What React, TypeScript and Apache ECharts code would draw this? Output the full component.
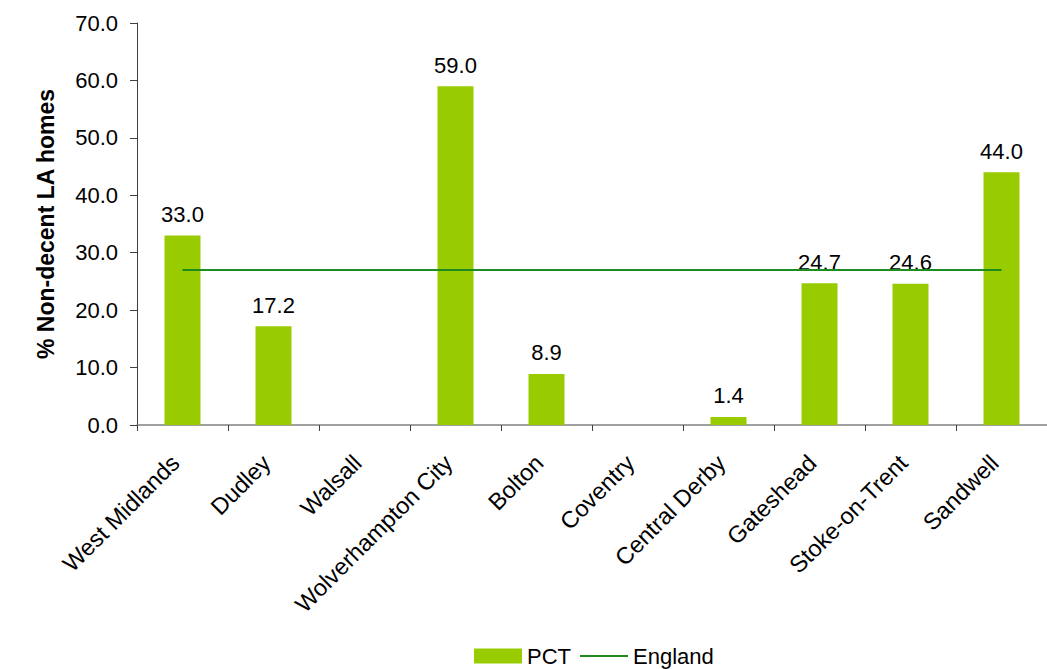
import React, { useEffect, useRef } from "react";
import * as echarts from "echarts";

const categories = [
  "West Midlands",
  "Dudley",
  "Walsall",
  "Wolverhampton City",
  "Bolton",
  "Coventry",
  "Central Derby",
  "Gateshead",
  "Stoke-on-Trent",
  "Sandwell",
];
const pctValues: (number | null)[] = [33.0, 17.2, null, 59.0, 8.9, null, 1.4, 24.7, 24.6, 44.0];
const englandValues = [27.0, 27.0, 27.0, 27.0, 27.0, 27.0, 27.0, 27.0, 27.0, 27.0];
const yTicks = { min: 0, max: 70, interval: 10 };

const FONT = "'Liberation Sans', Arial, sans-serif";

export default function App() {
  const ref = useRef<HTMLDivElement>(null);
  useEffect(() => {
    if (!ref.current) return;
    const chart = echarts.init(ref.current, undefined, { renderer: "svg" });
    chart.setOption({
      animation: false,
      textStyle: { fontFamily: FONT },
      grid: { left: 137, top: 23, width: 916.5, height: 402, containLabel: false },
      legend: {
        left: 474,
        top: 645,
        padding: 0,
        itemWidth: 48,
        itemHeight: 15,
        itemGap: 9,
        symbolKeepAspect: true,
        textStyle: { fontSize: 22, color: "#000", fontFamily: FONT },
        data: [
          { name: "PCT", icon: "rect" },
          { name: "England", icon: "path://M0,0h48v2h-48z", itemStyle: { color: "#1E8C1E" } },
        ],
      },
      xAxis: {
        type: "category",
        data: categories,
        boundaryGap: true,
        axisLine: { lineStyle: { color: "#808080", width: 1.5 } },
        axisTick: { show: true, length: 6, alignWithLabel: false, lineStyle: { color: "#404040" } },
        axisLabel: {
          rotate: 45,
          interval: 0,
          fontSize: 23.5,
          color: "#000",
          fontFamily: FONT,
          margin: 27,
          padding: [0, 10, 0, 0],
        },
      },
      yAxis: {
        type: "value",
        min: yTicks.min,
        max: yTicks.max,
        interval: yTicks.interval,
        name: "% Non-decent LA homes",
        nameLocation: "middle",
        nameGap: 80,
        nameTextStyle: { fontSize: 23, fontWeight: "bold", color: "#000", fontFamily: FONT },
        splitLine: { show: false },
        axisLine: { show: true, lineStyle: { color: "#404040", width: 1 } },
        axisTick: { show: true, length: 7, lineStyle: { color: "#404040" } },
        axisLabel: {
          fontSize: 22,
          color: "#000",
          fontFamily: FONT,
          margin: 19,
          formatter: (v: number) => v.toFixed(1),
        },
      },
      series: [
        {
          name: "PCT",
          type: "bar",
          data: pctValues,
          barWidth: 36,
          itemStyle: { color: "#99CC00" },
          label: {
            show: true,
            position: "top",
            distance: 10,
            fontSize: 22,
            color: "#000",
            fontFamily: FONT,
            formatter: (p: any) => (p.value == null ? "" : Number(p.value).toFixed(1)),
          },
          z: 2,
        },
        {
          name: "England",
          type: "line",
          data: englandValues,
          symbol: "none",
          lineStyle: { color: "#1E8C1E", width: 2 },
          itemStyle: { color: "#1E8C1E" },
          z: 3,
        },
      ],
    });
    return () => chart.dispose();
  }, []);
  return (
    <div
      ref={ref}
      style={{ position: "fixed", left: 0, top: 0, width: 1047, height: 669, background: "#fff" }}
    />
  );
}
